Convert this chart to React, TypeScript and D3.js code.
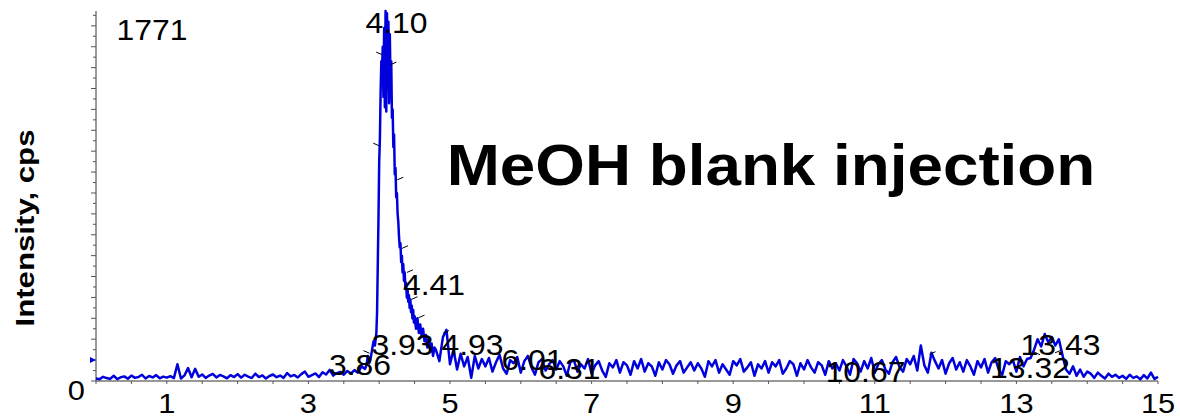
import React from 'react';
import * as d3 from 'd3';

const W = 1180;
const H = 420;
const FONT = 'Liberation Sans, Arial, sans-serif';
const BLUE = '#0000dd';

const MAX_CPS = 1771;
const SCAN_STEP = 0.05;

// 0.00 - 3.80 min, one reading every 0.05 min
const leadCps = [
  12, 8, 20, 14, 10, 25, 9, 18, 22, 11, 26, 15, 19, 30, 12, 24, 17, 28, 13, 21, 16,
  23, 14, 80, 12, 27, 62, 18, 58, 20, 31, 15, 26, 34, 17, 29, 22, 13, 28, 19, 33,
  16, 30, 21, 14, 35, 19, 27, 12, 24, 31, 18, 26, 15, 38, 22, 29, 17, 33, 45, 20,
  28, 36, 19, 42, 31, 53, 26, 38, 44, 30, 48, 35, 52, 40, 70, 58,
];

// main peak, read more closely (3.82 - 4.78 min)
const peakTimes = [
  3.82, 3.84, 3.86, 3.88, 3.9, 3.92, 3.94, 3.96, 3.97, 3.98, 3.99, 4.0, 4.01, 4.02, 4.03,
  4.04, 4.05, 4.06, 4.07, 4.08, 4.09, 4.1, 4.11, 4.12, 4.13, 4.14, 4.15, 4.16, 4.17, 4.18,
  4.19, 4.2, 4.21, 4.22, 4.23, 4.24, 4.25, 4.26, 4.27, 4.28, 4.29, 4.3, 4.31, 4.32, 4.33,
  4.34, 4.35, 4.36, 4.37, 4.38, 4.39, 4.4, 4.41, 4.42, 4.43, 4.44, 4.45, 4.46, 4.47, 4.48,
  4.49, 4.5, 4.52, 4.54, 4.56, 4.58, 4.6, 4.62, 4.64, 4.66, 4.68, 4.7, 4.72, 4.74, 4.76, 4.78,
];
const peakCps = [
  75, 120, 85, 110, 150, 190, 170, 230, 330, 560, 780, 1050, 1160, 1380, 1530,
  1480, 1600, 1360, 1690, 1310, 1771, 1290, 1760, 1400, 1720, 1330, 1660, 1420, 1530, 1260,
  1300, 1120, 1180, 990, 1020, 880, 900, 800, 760, 690, 640, 660, 570, 600, 520,
  560, 480, 520, 450, 470, 400, 440, 380, 410, 350, 390, 330, 360, 300, 340,
  280, 310, 250, 300, 230, 270, 210, 250, 190, 220, 160, 200, 140, 180, 120, 160,
];

// 4.80 - 15.00 min, one reading every 0.05 min
const TAIL_START = 4.8;
const tailCps = [
  150, 95, 210, 245, 80, 150, 55, 130, 70, 115, 15, 120, 60, 105,
  70, 110, 45, 90, 125, 60, 35, 100, 85, 115, 40, 95, 120, 65, 30, 90, 105, 50, 80, 100,
  55, 95, 70, 25, 90, 100, 45, 80, 60, 105, 35, 75, 95, 50, 20, 85, 65, 100, 40, 90,
  75, 30, 95, 60, 105, 45, 85, 70, 25, 90, 55, 100, 80, 35, 75, 95, 40, 65, 90, 50,
  85, 60, 20, 95, 70, 100, 40, 80, 55, 30, 95, 75, 105, 45, 65, 90, 25, 80, 60, 95,
  40, 90, 70, 100, 35, 60, 95, 80, 25, 85, 55, 100, 65, 40, 90, 75, 30, 95, 60, 85,
  50, 100, 70, 30, 105, 85, 45, 95, 60, 110, 40, 80, 100, 55, 35, 90, 115, 65, 45, 105,
  80, 120, 50, 170, 75, 40, 135, 95, 60, 100, 35, 85, 110, 55, 90, 45, 100, 70, 30, 95,
  65, 105, 40, 90, 110, 55, 30, 95, 80, 100, 45, 115, 70, 105, 110, 150, 200, 165, 225, 185,
  210, 170, 200, 125, 55, 35, 70, 25, 55, 20, 45, 35, 15, 40, 25, 12, 35, 20, 30, 15,
  25, 10, 30, 15, 22, 8, 28, 12, 40, 10, 20,
];

// retention time labels (anchor: label centre time, baseline intensity)
const peakLabels = ['3.86', '3.93', '4.10', '4.41', '4.93', '6.01', '6.31', '10.67', '13.32', '13.43'];
const labelTimes = [3.729, 4.329, 4.245, 4.774, 5.318, 6.165, 6.688, 10.869, 13.192, 13.623];
const labelCps = [29, 124, 1665, 412, 124, 53, 10, -5, 14, 124];

// little black integration marks, dir 1 = "\", -1 = "/"
const markTimes = [4.0, 4.2, 3.958, 4.297, 4.364, 4.435, 4.499, 4.598, 4.944, 3.821, 11.815, 13.291, 13.588];
const markCps = [1568, 1520, 1132, 969, 641, 526, 397, 309, 235, 139, 134, 132, 141];
const markDir = [1, -1, 1, -1, -1, -1, -1, -1, -1, 1, -1, 1, -1];

const xTickLabels = ['1', '3', '5', '7', '9', '11', '13', '15'];

export default function App() {
  const x = d3.scaleLinear().domain([0, 15]).range([96, 1158]);
  const y = d3.scaleLinear().domain([0, MAX_CPS]).range([381, 11]);

  const points: [number, number][] = [
    ...leadCps.map((v, i) => [i * SCAN_STEP, v] as [number, number]),
    ...peakTimes.map((t, i) => [t, peakCps[i]] as [number, number]),
    ...tailCps.map((v, i) => [TAIL_START + i * SCAN_STEP, v] as [number, number]),
  ];

  const line = d3
    .line<[number, number]>()
    .x((d) => x(d[0]))
    .y((d) => y(d[1]));

  const yTicks = d3.range(0, MAX_CPS, 50);
  const xTicks = d3.range(0, 15.001, 0.5);
  const x0 = x(0);
  const yBase = y(0);

  return (
    <div style={{ position: 'absolute', left: 0, top: 0 }}>
      <svg width={W} height={H} style={{ display: 'block', background: '#fff' }} fontFamily={FONT}>
        {/* y axis */}
        <line x1={x0} x2={x0} y1={y(MAX_CPS)} y2={yBase} stroke="#7a7a7a" strokeWidth={1.5} />
        {yTicks.map((v) => (
          <line
            key={v}
            x1={x0 - (v % 100 === 0 ? 5 : 3)}
            x2={x0}
            y1={y(v)}
            y2={y(v)}
            stroke="#555"
            strokeWidth={1}
          />
        ))}
        {/* x axis */}
        <line x1={x0} x2={x(15)} y1={yBase} y2={yBase} stroke="#333" strokeWidth={1} />
        {xTicks.map((v) => (
          <line key={v} x1={x(v)} x2={x(v)} y1={yBase} y2={yBase + 3} stroke="#555" strokeWidth={1} />
        ))}
        {xTickLabels.map((s) => (
          <g key={s} transform={`translate(${x(+s)},413) scale(1.1,1)`}>
            <text textAnchor="middle" fontSize={28} fill="#000">
              {s}
            </text>
          </g>
        ))}
        <g transform={`translate(${x0 - 11},400) scale(1.1,1)`}>
          <text textAnchor="end" fontSize={28} fill="#000">
            0
          </text>
        </g>

        {/* trace */}
        <path d={line(points) ?? ''} fill="none" stroke={BLUE} strokeWidth={2.5} strokeLinejoin="round" />

        {/* marker on y axis */}
        <path
          d={`M${x0 - 6},${y(100) - 3}L${x0},${y(100)}L${x0 - 6},${y(100) + 3}Z`}
          fill={BLUE}
        />

        {/* integration marks */}
        {markTimes.map((t, i) => (
          <line
            key={i}
            x1={x(t) - 3}
            x2={x(t) + 3}
            y1={y(markCps[i]) - 1.3 * markDir[i]}
            y2={y(markCps[i]) + 1.3 * markDir[i]}
            stroke="#000"
            strokeWidth={1}
          />
        ))}

        {/* labels */}
        <g transform={`translate(152,40) scale(1.1,1)`}>
          <text textAnchor="middle" fontSize={29} fill="#000">
            {String(MAX_CPS)}
          </text>
        </g>
        {peakLabels.map((s, i) => (
          <g key={s} transform={`translate(${x(labelTimes[i])},${y(labelCps[i])}) scale(1.1,1)`}>
            <text textAnchor="middle" fontSize={29} fill="#000">
              {s}
            </text>
          </g>
        ))}

        <g transform="translate(34,228) rotate(-90) scale(1.2,1)">
          <text textAnchor="middle" fontSize={26} fontWeight="bold" fill="#000">
            Intensity, cps
          </text>
        </g>

        <g transform="translate(771,185) scale(1.1,1)">
          <text textAnchor="middle" fontSize={58} fontWeight="bold" fill="#000">
            MeOH blank injection
          </text>
        </g>
      </svg>
    </div>
  );
}
